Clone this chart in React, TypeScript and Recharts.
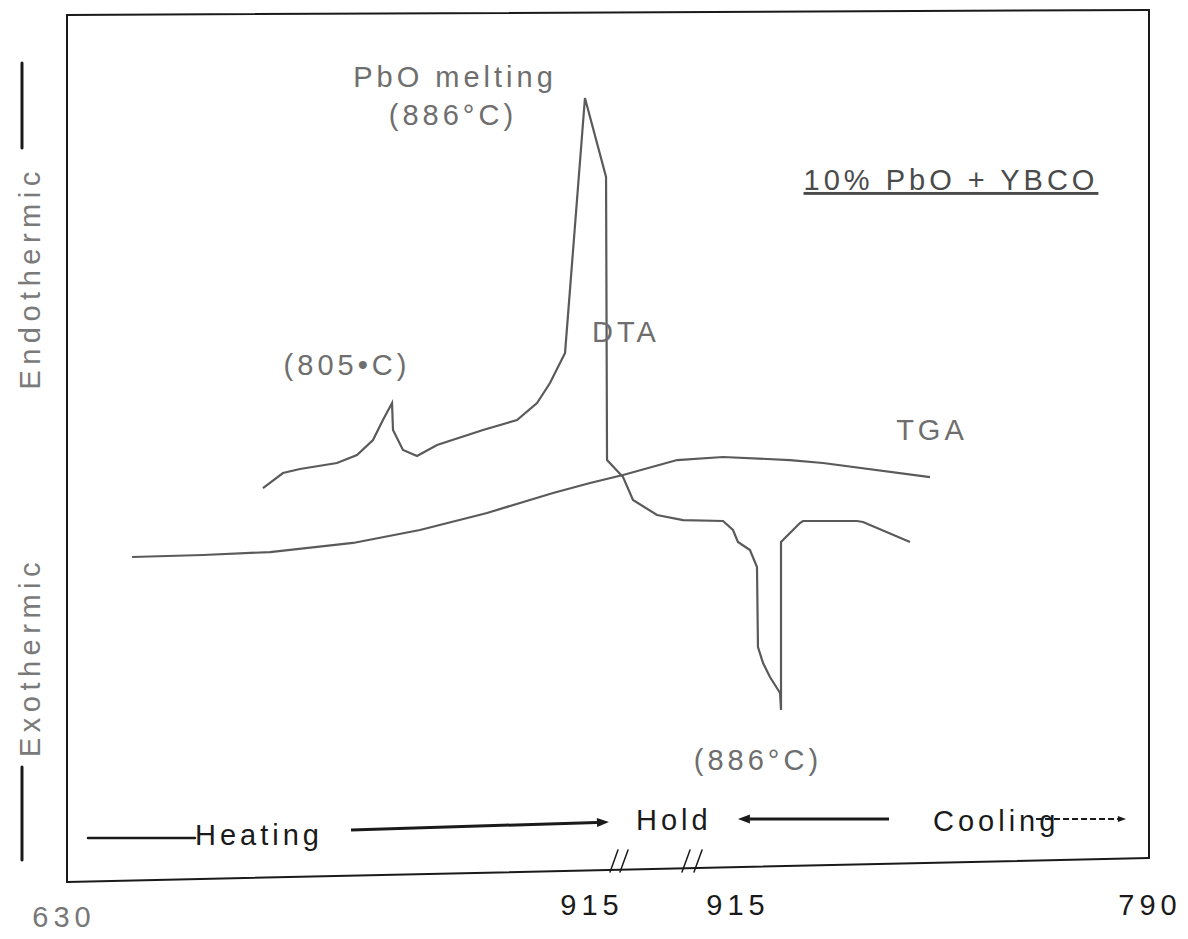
import React from 'react';
import { LineChart, Line, XAxis, YAxis, ReferenceLine, ReferenceDot } from 'recharts';

// ---- data (x: run progress 0-100 across the frame, y: signal 0-100) ----
const dtaTime = [18.11, 19.96, 21.53, 24.95, 26.8, 28.28, 29.2, 30.04, 30.13, 31.05, 32.35, 34.2, 38.45, 41.59, 43.44, 44.64, 46.03, 47.87, 49.82, 49.91, 51.39, 52.31, 54.53, 56.93, 60.63, 61.55, 62.01, 63.12, 63.77, 63.86, 64.33, 64.97, 65.9, 65.99, 65.99, 67.74, 68.02, 73.01, 73.57, 77.91];
const dtaSignal = [45.18, 46.9, 47.36, 48.05, 48.97, 50.69, 52.98, 54.93, 51.83, 49.54, 48.85, 50.11, 51.83, 52.98, 54.93, 57.22, 60.67, 89.91, 80.85, 48.39, 46.44, 43.81, 42.09, 41.51, 41.4, 40.37, 38.99, 38.07, 36.12, 26.95, 25.11, 23.51, 21.67, 19.72, 38.99, 41.17, 41.4, 41.4, 41.28, 38.99];

const tgaTime = [6.01, 12.57, 18.76, 26.43, 32.62, 38.82, 44.92, 48.34, 51.39, 56.38, 60.63, 66.82, 69.87, 79.76];
const tgaSignal = [37.27, 37.5, 37.84, 38.88, 40.37, 42.32, 44.61, 45.76, 46.67, 48.39, 48.74, 48.39, 48.05, 46.44];

const tickLabels = ['630', '915', '915', '790'];
const tickPositions = [-0.28, 48.52, 62.01, 100.09];
const tickLevels = [-5.2, -3.78, -3.78, -3.78];

const annotationTexts = ['PbO melting', '(886°C)', '(805•C)', 'DTA', 'TGA', '(886°C)'];
const annotationX = [35.86, 35.67, 25.88, 51.66, 79.94, 63.86];
const annotationY = [91.17, 86.81, 58.14, 61.93, 50.69, 12.84];

const phaseLabels = ['Heating', 'Hold', 'Cooling'];
const phaseX = [11.83, 52.59, 80.04];
const phaseY = [4.24, 5.96, 5.85];

const sampleTitle = '10% PbO + YBCO';
const axisWords = ['Endothermic', 'Exothermic'];
const axisWordY = [69.27, 25.8];

const dtaData = dtaTime.map((x, i) => ({ x, y: dtaSignal[i] }));
const tgaData = tgaTime.map((x, i) => ({ x, y: tgaSignal[i] }));

const FONT = "'Liberation Sans', Arial, Helvetica, sans-serif";
const GRAY = '#6e6e6e';
const INK = '#1a1a1a';

const textShape = (label: string, opts: any = {}) => (p: any) => (
  <text
    x={p.cx}
    y={p.cy}
    textAnchor={opts.anchor || 'middle'}
    fill={opts.fill || GRAY}
    fontSize={opts.size || 29}
    fontFamily={FONT}
    letterSpacing={opts.spacing ?? 4}
    textDecoration={opts.underline ? 'underline' : undefined}
    transform={opts.rotate ? `rotate(-90 ${p.cx} ${p.cy})` : undefined}
    dominantBaseline={opts.rotate ? 'central' : undefined}
  >
    {label}
  </text>
);

const arrowShape = (opts: any = {}) => (p: any) => {
  const { x1, y1, x2, y2 } = p;
  const ang = Math.atan2(y2 - y1, x2 - x1);
  const L = opts.head || 12;
  const W = opts.half || 4.5;
  const bx = x2 - L * Math.cos(ang);
  const by = y2 - L * Math.sin(ang);
  const px = -Math.sin(ang) * W;
  const py = Math.cos(ang) * W;
  return (
    <g>
      <line x1={x1} y1={y1} x2={bx} y2={by} stroke={INK} strokeWidth={opts.width || 3} strokeDasharray={opts.dash} />
      <polygon points={`${x2},${y2} ${bx + px},${by + py} ${bx - px},${by - py}`} fill={INK} />
    </g>
  );
};

const plainLine = (color: string, width: number) => (p: any) => (
  <line x1={p.x1} y1={p.y1} x2={p.x2} y2={p.y2} stroke={color} strokeWidth={width} strokeLinecap="round" />
);

export default function App() {
  return (
    <div style={{ width: 1180, height: 931 }}>
      <LineChart width={1180} height={931} margin={{ top: 2, right: 39, bottom: 57, left: 59 }}>
        <XAxis type="number" dataKey="x" domain={[0, 100]} allowDataOverflow hide />
        <YAxis type="number" dataKey="y" domain={[0, 100]} allowDataOverflow hide />

        {/* frame */}
        <ReferenceLine ifOverflow="visible" segment={[{ x: 0, y: 99.43 }, { x: 100, y: 100 }]} shape={plainLine(INK, 2)} />
        <ReferenceLine ifOverflow="visible" segment={[{ x: 0, y: 0 }, { x: 0, y: 99.43 }]} shape={plainLine(INK, 2)} />
        <ReferenceLine ifOverflow="visible" segment={[{ x: 100, y: 2.75 }, { x: 100, y: 100 }]} shape={plainLine(INK, 2)} />
        <ReferenceLine ifOverflow="visible" segment={[{ x: 0, y: 0 }, { x: 100, y: 2.75 }]} shape={plainLine(INK, 2)} />

        {/* axis breaks // // */}
        <ReferenceLine ifOverflow="visible" segment={[{ x: 50.19, y: 1.15 }, { x: 50.92, y: 3.67 }]} shape={plainLine(INK, 1.5)} />
        <ReferenceLine ifOverflow="visible" segment={[{ x: 51.11, y: 1.15 }, { x: 51.85, y: 3.67 }]} shape={plainLine(INK, 1.5)} />
        <ReferenceLine ifOverflow="visible" segment={[{ x: 56.84, y: 1.15 }, { x: 57.58, y: 3.67 }]} shape={plainLine(INK, 1.5)} />
        <ReferenceLine ifOverflow="visible" segment={[{ x: 57.95, y: 1.15 }, { x: 58.69, y: 3.67 }]} shape={plainLine(INK, 1.5)} />

        {/* endo / exo bars */}
        <ReferenceLine ifOverflow="visible" segment={[{ x: -4.16, y: 84.17 }, { x: -4.16, y: 93.92 }]} shape={plainLine(INK, 3)} />
        <ReferenceLine ifOverflow="visible" segment={[{ x: -4.16, y: 2.52 }, { x: -4.16, y: 13.19 }]} shape={plainLine(INK, 3)} />

        {/* phase arrows */}
        <ReferenceLine ifOverflow="visible" segment={[{ x: 1.94, y: 5.05 }, { x: 11.83, y: 5.05 }]} shape={plainLine(INK, 2.5)} />
        <ReferenceLine ifOverflow="visible" segment={[{ x: 26.25, y: 5.96 }, { x: 50.09, y: 6.88 }]} shape={arrowShape()} />
        <ReferenceLine ifOverflow="visible" segment={[{ x: 75.97, y: 7.22 }, { x: 62.01, y: 7.22 }]} shape={arrowShape()} />
        <ReferenceLine ifOverflow="visible" segment={[{ x: 89.56, y: 7.22 }, { x: 97.87, y: 7.22 }]} shape={arrowShape({ width: 2, dash: '6 3', head: 8, half: 3 })} />

        <Line data={tgaData} dataKey="y" type="linear" stroke="#5a5a5a" strokeWidth={2.2} dot={false} isAnimationActive={false} />
        <Line data={dtaData} dataKey="y" type="linear" stroke="#5a5a5a" strokeWidth={2.2} dot={false} isAnimationActive={false} />

        {annotationTexts.map((t, i) => (
          <ReferenceDot key={'a' + i} x={annotationX[i]} y={annotationY[i]} r={1} ifOverflow="visible" shape={textShape(t)} />
        ))}
        <ReferenceDot x={81.7} y={79.36} r={1} ifOverflow="visible" shape={textShape(sampleTitle, { underline: true, fill: '#4a4a4a' })} />
        {phaseLabels.map((t, i) => (
          <ReferenceDot key={'p' + i} x={phaseX[i]} y={phaseY[i]} r={1} ifOverflow="visible" shape={textShape(t, { anchor: 'start', fill: INK })} />
        ))}
        {axisWords.map((t, i) => (
          <ReferenceDot key={'w' + i} x={-3.42} y={axisWordY[i]} r={1} ifOverflow="visible" shape={textShape(t, { rotate: true, spacing: 5.5, fill: '#7a7a7a' })} />
        ))}
        {tickLabels.map((t, i) => (
          <ReferenceDot key={'t' + i} x={tickPositions[i]} y={tickLevels[i]} r={1} ifOverflow="visible" shape={textShape(t, { fill: i === 0 ? '#777' : INK, spacing: 5 })} />
        ))}
      </LineChart>
    </div>
  );
}
